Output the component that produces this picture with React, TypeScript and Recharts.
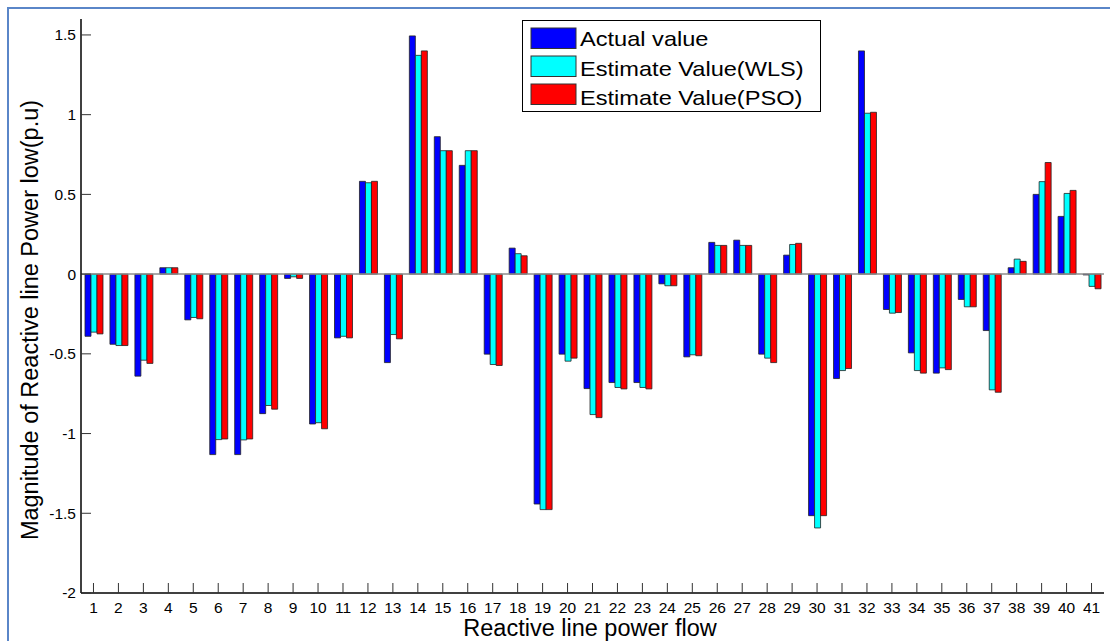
import { BarChart, Bar, XAxis, YAxis, ReferenceLine, Legend, Label } from 'recharts';

// line numbers on the x axis
const LINES = [
  '1', '2', '3', '4', '5', '6', '7', '8', '9', '10',
  '11', '12', '13', '14', '15', '16', '17', '18', '19', '20',
  '21', '22', '23', '24', '25', '26', '27', '28', '29', '30',
  '31', '32', '33', '34', '35', '36', '37', '38', '39', '40', '41',
];

// values (p.u)
const ACTUAL = [
  -0.39, -0.44, -0.64, 0.04, -0.287, -1.132, -1.132, -0.875, -0.027, -0.94,
  -0.4, 0.582, -0.555, 1.494, 0.862, 0.682, -0.502, 0.163, -1.442, -0.502,
  -0.718, -0.68, -0.68, -0.061, -0.519, 0.199, 0.213, -0.502, 0.119, -1.515,
  -0.655, 1.4, -0.222, -0.494, -0.621, -0.159, -0.354, 0.04, 0.5, 0.362, -0.005,
];
const WLS = [
  -0.364, -0.448, -0.54, 0.04, -0.272, -1.038, -1.04, -0.824, -0.017, -0.932,
  -0.39, 0.573, -0.379, 1.372, 0.774, 0.774, -0.567, 0.128, -1.477, -0.546,
  -0.881, -0.711, -0.711, -0.073, -0.506, 0.18, 0.18, -0.527, 0.186, -1.592,
  -0.605, 1.009, -0.245, -0.605, -0.588, -0.205, -0.726, 0.094, 0.58, 0.506, -0.077,
];
const PSO = [
  -0.375, -0.448, -0.56, 0.04, -0.28, -1.034, -1.034, -0.847, -0.027, -0.97,
  -0.4, 0.582, -0.406, 1.4, 0.774, 0.774, -0.573, 0.115, -1.477, -0.527,
  -0.9, -0.72, -0.72, -0.073, -0.512, 0.18, 0.18, -0.555, 0.193, -1.515,
  -0.592, 1.015, -0.241, -0.621, -0.599, -0.205, -0.741, 0.08, 0.7, 0.525, -0.092,
];

const SERIES_NAMES = ['Actual value', 'Estimate Value(WLS)', 'Estimate Value(PSO)'];
const Y_TICKS = [-2, -1.5, -1, -0.5, 0, 0.5, 1, 1.5];

const data = LINES.map((line, i) => ({
  line,
  actual: ACTUAL[i],
  wls: WLS[i],
  pso: PSO[i],
}));

const FONT = '"Liberation Sans", Arial, sans-serif';

// matlab style ticks point inward
const BottomTick = ({ x, y, payload }: any) => (
  <g>
    <line x1={x} y1={y} x2={x} y2={y - 10} stroke="#333" />
    <text x={x} y={y + 20} textAnchor="middle" fontSize={15.5} fill="#000" fontFamily={FONT}>
      {payload.value}
    </text>
  </g>
);

const TopTick = ({ x, y }: any) => <line x1={x} y1={y} x2={x} y2={y + 10} stroke="#333" />;

const LeftTick = ({ x, y, payload }: any) => (
  <g>
    <line x1={x} y1={y} x2={x + 10} y2={y} stroke="#333" />
    <text x={x - 5} y={y} dy="0.35em" textAnchor="end" fontSize={15.5} fill="#000" fontFamily={FONT}>
      {payload.value}
    </text>
  </g>
);

const RightTick = ({ x, y }: any) => <line x1={x} y1={y} x2={x - 10} y2={y} stroke="#333" />;

const LegendBox = ({ payload }: any) => {
  // keep the plotting order, recharts sorts by name otherwise
  const items = [...(payload || [])].sort(
    (a: any, b: any) => SERIES_NAMES.indexOf(a.value) - SERIES_NAMES.indexOf(b.value)
  );
  return (
    <svg width={300} height={93} style={{ display: 'block' }}>
      <rect x={0.5} y={0.5} width={298} height={91} fill="#fff" stroke="#000" />
      {items.map((p: any, i: number) => (
        <g key={p.value}>
          <rect x={9} y={8 + 28 * i} width={45} height={20.5} fill={p.color} stroke="#333" />
          <g transform={`translate(58, ${26 + 29.5 * i}) scale(1.18, 1)`}>
            <text x={0} y={0} fontSize={20} fill="#000" fontFamily={FONT}>
              {p.value}
            </text>
          </g>
        </g>
      ))}
    </svg>
  );
};

export default function App() {
  return (
    <div style={{ position: 'absolute', left: 0, top: 0, width: 1110, height: 641, background: '#fff', overflow: 'hidden' }}>
      <div
        style={{
          position: 'absolute',
          left: 7,
          top: 7,
          width: 1110,
          height: 641,
          borderLeft: '2px solid #5a86c8',
          borderTop: '2px solid #5a86c8',
        }}
      />
      <div style={{ position: 'absolute', left: 0, top: 0 }}>
        <BarChart
          width={1110}
          height={641}
          data={data}
          margin={{ top: 19, right: 6, bottom: 0, left: 0 }}
          barCategoryGap="16%"
          barGap={0}
        >
          <XAxis
            dataKey="line"
            height={48}
            interval={0}
            tickSize={0}
            tickMargin={0}
            tickLine={false}
            tick={<BottomTick />}
            axisLine={{ stroke: '#000', strokeWidth: 1.5 }}
          >
            <Label
              content={() => (
                <text x={590} y={636} textAnchor="middle" fontSize={23.5} fill="#000" fontFamily={FONT}>
                  Reactive line power flow
                </text>
              )}
            />
          </XAxis>
          <XAxis
            xAxisId="top"
            dataKey="line"
            orientation="top"
            height={0}
            interval={0}
            tickSize={0}
            tickMargin={0}
            tickLine={false}
            tick={<TopTick />}
            axisLine={{ stroke: '#000', strokeWidth: 1.5 }}
          />
          <YAxis
            type="number"
            domain={[-2, 1.6]}
            ticks={Y_TICKS}
            width={81}
            tickSize={0}
            tickMargin={0}
            tickLine={false}
            tick={<LeftTick />}
            axisLine={{ stroke: '#000', strokeWidth: 1.5 }}
          >
            <Label
              content={() => (
                <text transform="translate(38, 320) rotate(-90)" textAnchor="middle" fontSize={23.5} fill="#000" fontFamily={FONT}>
                  Magnitude of Reactive line Power low(p.u)
                </text>
              )}
            />
          </YAxis>
          <YAxis
            yAxisId="right"
            orientation="right"
            type="number"
            domain={[-2, 1.6]}
            allowDataOverflow
            ticks={Y_TICKS}
            width={0}
            tickSize={0}
            tickMargin={0}
            tickLine={false}
            tick={<RightTick />}
            axisLine={{ stroke: '#000', strokeWidth: 1.5 }}
          />
          <Legend
            layout="vertical"
            align="center"
            verticalAlign="middle"
            content={<LegendBox />}
            wrapperStyle={{ left: 522, top: 20, width: 300, height: 93 }}
          />
          <ReferenceLine y={0} stroke="#8c8c8c" strokeWidth={1.5} />
          <Bar dataKey="actual" name={SERIES_NAMES[0]} fill="#0000ff" stroke="#222" strokeWidth={0.8} isAnimationActive={false} />
          <Bar dataKey="wls" name={SERIES_NAMES[1]} fill="#00ffff" stroke="#222" strokeWidth={0.8} isAnimationActive={false} />
          <Bar dataKey="pso" name={SERIES_NAMES[2]} fill="#ff0000" stroke="#222" strokeWidth={0.8} isAnimationActive={false} />
        </BarChart>
      </div>
    </div>
  );
}
